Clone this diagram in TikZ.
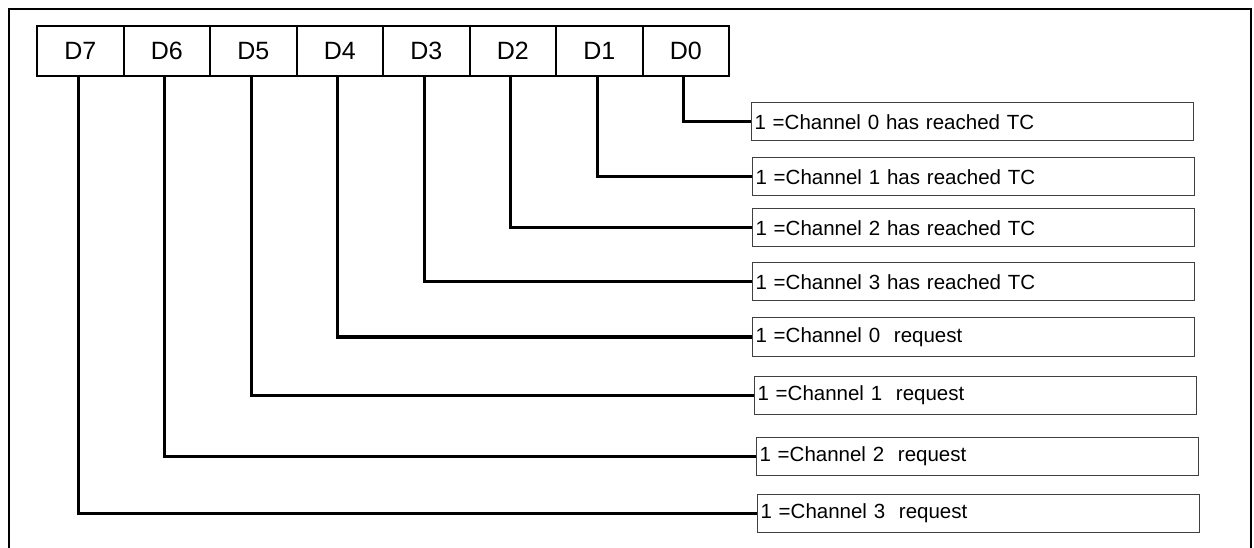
\documentclass[tikz,border=0pt]{standalone}
\usepackage{fontspec}
\setmainfont{Liberation Sans}
\begin{document}
\begin{tikzpicture}[x=1pt,y=-1pt,
  reg/.style={draw, line width=2pt, minimum width=86.5pt, minimum height=50pt, inner sep=0pt,
    anchor=north west, font=\fontsize{25}{25}\selectfont},
  lab/.style={draw=black!75, line width=1pt, minimum width=442pt, minimum height=38pt,
    anchor=west, inner sep=2pt, text width=436pt, align=left, font=\fontsize{20.5}{21}\selectfont},
  wire/.style={line width=3pt},
  frame/.style={line width=2pt}]
\useasboundingbox (0,0) rectangle (1254,548);
\draw[frame] (9,548) -- (9,9) -- (1251,9) -- (1251,548);
\foreach \n [count=\k from 0] in {7,6,5,4,3,2,1,0}
  \node[reg] (r\n) at (36+86.5*\k,25) {D\n};
\node[lab] (l0) at (751,122) {1 =Channel 0 has reached TC};
\node[lab] (l1) at (752,177) {1 =Channel 1 has reached TC};
\node[lab] (l2) at (752,228) {1 =Channel 2 has reached TC};
\node[lab] (l3) at (752,282) {1 =Channel 3 has reached TC};
\node[lab] (l4) at (752,337) {1 =Channel 0~ request};
\node[lab] (l5) at (754,395) {1 =Channel 1~ request};
\node[lab] (l6) at (756,456) {1 =Channel 2~ request};
\node[lab] (l7) at (757,513) {1 =Channel 3~ request};
\foreach \n in {0,...,7}
  \draw[wire] ([xshift=-2pt]r\n.south) |- (l\n.west);
\end{tikzpicture}
\end{document}
